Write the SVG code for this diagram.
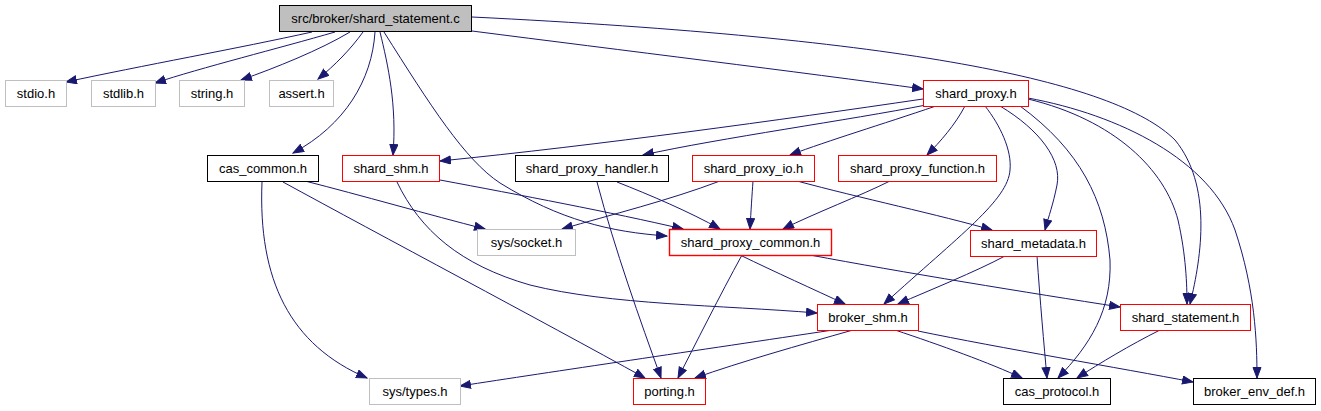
<svg xmlns="http://www.w3.org/2000/svg" width="1321" height="411" viewBox="0 0 1321 411">
<style>
text{font-family:"Liberation Sans",Arial,sans-serif;font-size:13px;text-anchor:middle;fill:#000}
rect.b{fill:#fff;stroke:#000;stroke-width:1}
rect.r{fill:#fff;stroke:#ff0000;stroke-width:1}
rect.g{fill:#fff;stroke:#bfbfbf;stroke-width:1}
rect.root{fill:#bfbfbf;stroke:#000;stroke-width:1}
#edges path{fill:none;stroke:#191970;stroke-width:1;marker-end:url(#ah)}
</style>
<defs>
<marker id="ah" markerUnits="userSpaceOnUse" markerWidth="12" markerHeight="10" refX="11" refY="4.5" orient="auto">
<path d="M0.5,0.5 L11,4.5 L0.5,8.5 z" fill="#191970" stroke="#191970" stroke-width="1"/>
</marker>
</defs>
<rect width="1321" height="411" fill="#fff"/>
<g id="edges">
<path d="M312,32 C240,48 140,66 66,82"/>
<path d="M335,32 C280,48 200,68 155,83"/>
<path d="M350,32 C320,50 275,68 241,80"/>
<path d="M363,32 C350,50 335,65 318,79"/>
<path d="M375,32 C372,80 345,125 293,153"/>
<path d="M380,32 C388,65 397,105 393,155"/>
<path d="M384,32 C430,105 465,160 500,183 C560,220 610,232 667,236"/>
<path d="M472,31 C620,50 800,72 923,89"/>
<path d="M472,17 C900,38 1115,80 1175,140 C1212,185 1202,255 1190,304"/>
<path d="M923,99 C780,120 600,145 440,161"/>
<path d="M926,105 C850,120 720,138 643,155"/>
<path d="M936,106 C880,125 830,140 790,155"/>
<path d="M965,106 C955,125 940,142 927,155"/>
<path d="M1000,106 C1040,130 1062,160 1057,185 C1053,205 1049,215 1045,230"/>
<path d="M985,106 C1000,125 1012,150 1010,170 C1008,200 960,235 884,304"/>
<path d="M1028,99 C1115,120 1165,170 1178,220 C1186,255 1187,285 1187,304"/>
<path d="M1028,98 C1120,115 1210,160 1235,230 C1255,290 1257,340 1257,378"/>
<path d="M1020,106 C1080,150 1105,200 1110,260 C1112,310 1090,345 1058,378"/>
<path d="M305,181 C360,195 430,215 485,229"/>
<path d="M283,182 C380,235 540,320 645,378"/>
<path d="M262,182 C258,280 290,345 367,378"/>
<path d="M440,180 C520,195 610,212 683,229"/>
<path d="M397,182 C420,230 460,265 530,285 C610,305 720,305 817,313"/>
<path d="M617,182 C650,195 690,212 720,229"/>
<path d="M597,182 C615,250 640,320 661,378"/>
<path d="M720,181 C670,200 610,215 562,229"/>
<path d="M753,181 C752,195 751,210 750,229"/>
<path d="M797,181 C860,198 940,215 992,230"/>
<path d="M890,181 C860,196 815,213 783,229"/>
<path d="M740,255 C775,272 815,290 845,304"/>
<path d="M742,255 C720,295 695,345 678,378"/>
<path d="M810,255 C900,272 1030,293 1120,307"/>
<path d="M1005,256 C975,272 930,290 898,304"/>
<path d="M1037,256 C1040,300 1044,345 1047,378"/>
<path d="M833,330 C700,350 550,372 460,386"/>
<path d="M853,330 C800,345 740,362 695,378"/>
<path d="M895,330 C940,345 990,363 1022,378"/>
<path d="M918,331 C1000,348 1120,368 1193,382"/>
<path d="M1160,330 C1130,345 1100,363 1077,378"/>
</g>
<g id="n_root"><rect class="root" x="279.5" y="5.5" width="192" height="26"/><text x="375.5" y="23">src/broker/shard_statement.c</text></g>
<g id="n_stdio"><rect class="g" x="5.5" y="80.5" width="61" height="26"/><text x="36" y="98">stdio.h</text></g>
<g id="n_stdlib"><rect class="g" x="91.5" y="80.5" width="64" height="26"/><text x="123.5" y="98">stdlib.h</text></g>
<g id="n_string"><rect class="g" x="179.5" y="80.5" width="65" height="26"/><text x="212" y="98">string.h</text></g>
<g id="n_assert"><rect class="g" x="269.5" y="80.5" width="64" height="26"/><text x="301.5" y="98">assert.h</text></g>
<g id="n_shard_proxy"><rect class="r" x="923.5" y="80.5" width="105" height="26"/><text x="976" y="98">shard_proxy.h</text></g>
<g id="n_cas_common"><rect class="b" x="207.5" y="155.5" width="111" height="26"/><text x="263" y="173">cas_common.h</text></g>
<g id="n_shard_shm"><rect class="r" x="342.5" y="155.5" width="97" height="26"/><text x="391" y="173">shard_shm.h</text></g>
<g id="n_shard_proxy_handler"><rect class="b" x="515.5" y="155.5" width="153" height="26"/><text x="592" y="173">shard_proxy_handler.h</text></g>
<g id="n_shard_proxy_io"><rect class="r" x="692.5" y="155.5" width="122" height="26"/><text x="753.5" y="173">shard_proxy_io.h</text></g>
<g id="n_shard_proxy_function"><rect class="r" x="838.5" y="155.5" width="158" height="26"/><text x="917.5" y="173">shard_proxy_function.h</text></g>
<g id="n_sys_socket"><rect class="g" x="477.5" y="229.5" width="98" height="26"/><text x="526.5" y="247">sys/socket.h</text></g>
<g id="n_shard_proxy_common"><rect class="r" x="669.5" y="229.5" width="162" height="26" style="stroke:#ff0000;stroke-width:1.4"/><text x="750.5" y="247">shard_proxy_common.h</text></g>
<g id="n_shard_metadata"><rect class="r" x="970.5" y="230.5" width="126" height="26"/><text x="1033.5" y="248">shard_metadata.h</text></g>
<g id="n_broker_shm"><rect class="r" x="817.5" y="304.5" width="101" height="26"/><text x="868" y="322">broker_shm.h</text></g>
<g id="n_shard_statement"><rect class="r" x="1120.5" y="304.5" width="130" height="26"/><text x="1185.5" y="322">shard_statement.h</text></g>
<g id="n_sys_types"><rect class="g" x="369.5" y="378.5" width="91" height="26"/><text x="415" y="396">sys/types.h</text></g>
<g id="n_porting"><rect class="r" x="633.5" y="378.5" width="72" height="26"/><text x="669.5" y="396">porting.h</text></g>
<g id="n_cas_protocol"><rect class="b" x="1003.5" y="378.5" width="107" height="26"/><text x="1057" y="396">cas_protocol.h</text></g>
<g id="n_broker_env_def"><rect class="b" x="1193.5" y="378.5" width="122" height="26"/><text x="1254.5" y="396">broker_env_def.h</text></g>
</svg>
